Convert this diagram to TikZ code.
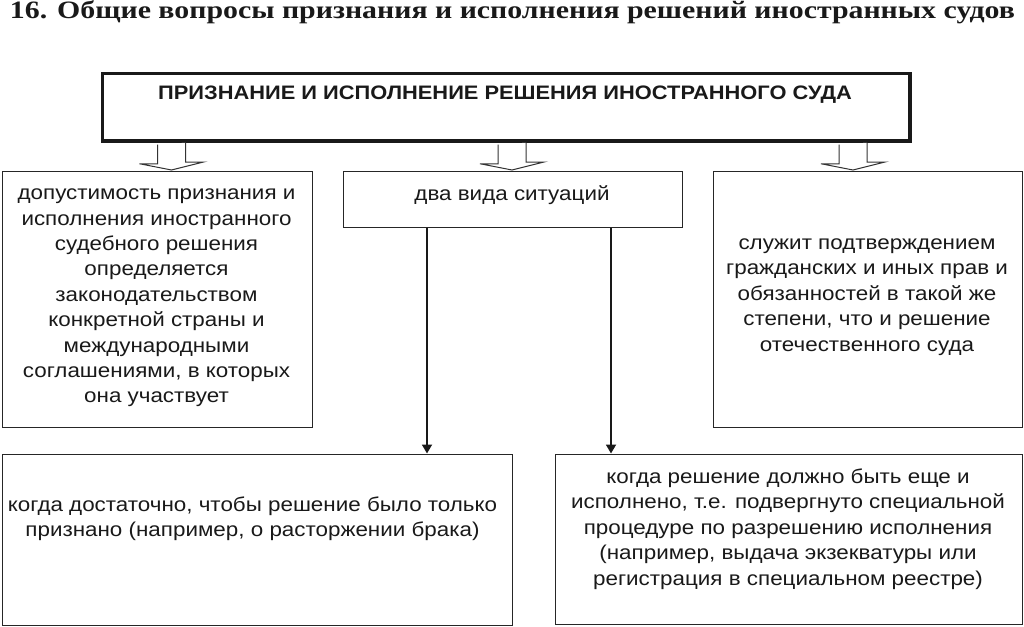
\documentclass[tikz,border=0pt]{standalone}
\usepackage{fontspec}
\setmainfont{Liberation Sans}[FakeStretch=1.12]
\newfontfamily\titlefont{Liberation Serif}
\usetikzlibrary{arrows.meta,calc}
\begin{document}
\begin{tikzpicture}[x=1pt,y=-1pt,
  box/.style={draw=black!85, line width=1.3pt, inner sep=0pt, anchor=north west},
  topbox/.style={draw=black!90, line width=3.5pt, inner sep=0pt, anchor=north west},
  txt/.style={align=center, font=\fontsize{20pt}{25.4pt}\selectfont, inner sep=0pt, text=black!90},
  hol/.style={draw=black!80, line width=1pt, fill=white, line join=miter},
  arr/.style={draw=black!90, line width=1.8pt, -{Triangle[length=9pt,width=10pt]}}]
\useasboundingbox (0,0) rectangle (1024,626);
% title
\node[anchor=base, inner sep=0pt, text=black!90] (title) at (512.5,19)
  {\resizebox{1005pt}{\height}{\titlefont\bfseries\fontsize{25pt}{25pt}\selectfont 16. Общие вопросы признания и исполнения решений иностранных судов}};
% boxes
\node[topbox, minimum width=807.5pt, minimum height=67.5pt] (T) at (100.75,71.75) {};
\node[txt, font=\bfseries\fontsize{19.5pt}{24pt}\selectfont, anchor=base] (Tt) at (505,99) {ПРИЗНАНИЕ И ИСПОЛНЕНИЕ РЕШЕНИЯ ИНОСТРАННОГО СУДА};
\node[box, minimum width=310pt, minimum height=256.5pt] (L) at (1.5,170.5) {};
\node[box, minimum width=339pt, minimum height=56pt] (M) at (342.5,170.5) {};
\node[box, minimum width=309pt, minimum height=256.5pt] (R) at (712.5,170.5) {};
\node[box, minimum width=510pt, minimum height=171pt] (LL) at (1.5,453.5) {};
\node[box, minimum width=467pt, minimum height=170pt] (LR) at (554.5,453.5) {};
% texts
\node[txt] (Lt) at (156.5,298) {допустимость признания и\\исполнения иностранного\\судебного решения\\определяется\\законодательством\\конкретной страны и\\международными\\соглашениями, в которых\\она участвует};
\node[txt, anchor=base] (Mt) at (512,200) {два вида ситуаций};
\node[txt] (Rt) at (867,297) {служит подтверждением\\гражданских и иных прав и\\обязанностей в такой же\\степени, что и решение\\отечественного суда};
\node[txt] (LLt) at (252.5,519) {когда достаточно, чтобы решение было только\\признано (например, о расторжении брака)};
\node[txt] (LRt) at (788,529) {когда решение должно быть еще и\\исполнено, т.е. подвергнуто специальной\\процедуре по разрешению исполнения\\(например, выдача экзекватуры или\\регистрация в специальном реестре)};
% hollow arrows
\coordinate (a1) at (171.5,170);
\coordinate (a2) at (512,170);
\coordinate (a3) at (853,170);
\foreach \a in {a1,a2,a3}{
  \draw[hol] ($(T.south -| \a)+(-14,1.75)$) -- ++(0,19.25) -- ++(-18,0) -- (\a) -- ++(32,-8) -- ++(-18,0) -- ++(0,-19.25);
}
% thin arrows
\coordinate (p1) at (427,0);
\coordinate (p2) at (611,0);
\draw[arr] (M.south -| p1) -- (LL.north -| p1);
\draw[arr] (M.south -| p2) -- (LR.north -| p2);
\end{tikzpicture}
\end{document}
